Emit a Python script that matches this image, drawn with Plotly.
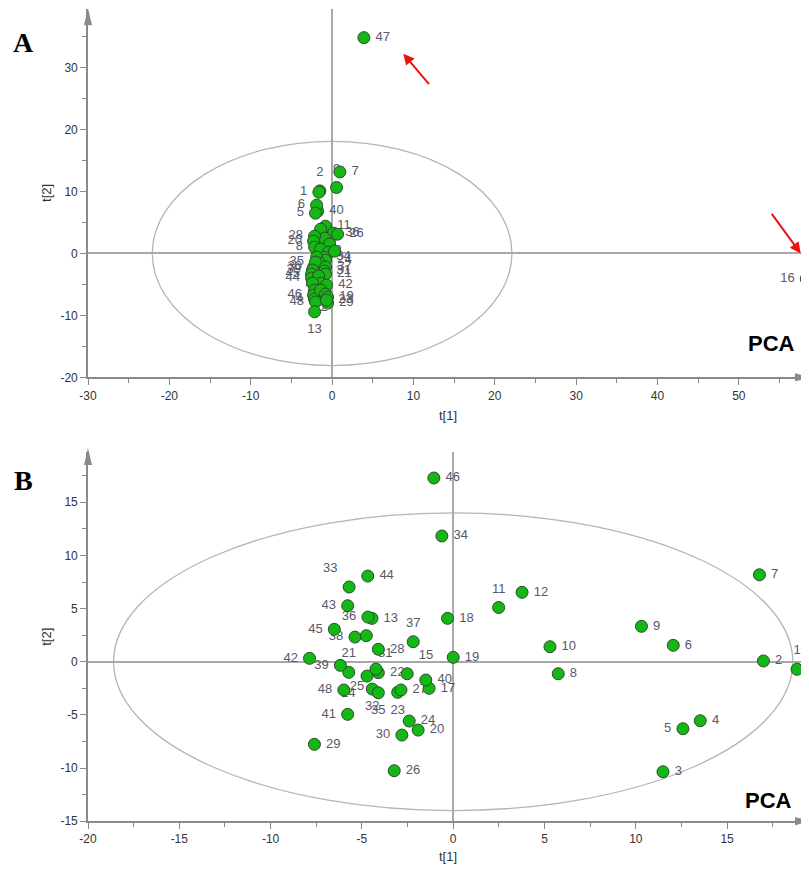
import plotly.graph_objects as go

# page is drawn with the browser's 8px body margin, so the figure is 8px smaller
OFF = 8
W, H = 809 - OFF, 871 - OFF

# ---------------- Panel A : all samples ----------------
a_labels = ['47', '16', '7', '9', '2', '1', '40', '6', '5', '11', '36', '26',
            '3', '10', '12', '28', '20', '8', '14', '15', '34', '24', '17', '18',
            '27', '30', '35', '39', '37', '31', '21', '45', '44', '32', '33', '25',
            '38', '42', '43', '46', '4', '48', '22', '41', '19', '29', '23', '13']
a_t1 = [3.91, 58.29, 0.96, 0.55, -1.50, -1.62, -1.78, -1.90, -2.03, -0.80, 0.18, 0.68,
        -1.41, -0.92, -0.31, -2.15, -2.27, -2.15, -1.41, -0.43, -0.92, -0.80, -1.90, 0.31,
        -1.54, -2.27, -2.03, -2.40, -0.80, -0.92, -0.80, -2.52, -2.52, -1.66, -1.41, -2.40,
        -2.15, -0.68, -1.29, -2.27, -2.15, -2.03, -1.41, -0.80, -0.55, -0.55, -0.68, -2.15]
a_t2 = [34.84, -4.10, 13.16, 10.65, 10.10, 9.89, 6.82, 7.79, 6.50, 4.40, 3.27, 3.11,
        3.92, 2.47, 1.50, 2.79, 1.98, 1.02, 0.69, 0.21, -0.60, -1.08, -0.60, 0.37,
        -1.56, -2.21, -1.40, -2.69, -2.21, -2.85, -3.34, -3.34, -3.98, -3.66, -4.79, -4.79,
        -5.92, -5.11, -6.24, -6.73, -7.37, -7.85, -5.92, -6.56, -7.05, -8.02, -7.53, -9.42]
a_xticks = [-30, -20, -10, 0, 10, 20, 30, 40, 50]
a_xtick_text = ['-30', '-20', '-10', '0', '10', '20', '30', '40', '50']
a_yticks = [-20, -10, 0, 10, 20, 30]
a_ytick_text = ['-20', '-10', '0', '10', '20', '30']

# ---------------- Panel B : outliers 16 and 47 removed ----------------
b_labels = ['1', '2', '3', '4', '5', '6', '7', '8', '9', '10', '11', '12', '13', '14',
            '15', '17', '18', '19', '20', '21', '22', '23', '24', '25', '26', '27', '28',
            '29', '30', '31', '32', '33', '34', '35', '36', '37', '38', '39', '40', '41',
            '42', '43', '44', '45', '46', '48']
b_t1 = [18.83, 16.99, 11.49, 13.53, 12.58, 12.05, 16.77, 5.75, 10.31, 5.30, 2.49, 3.77, -4.45, -4.72,
        -2.52, -1.32, -0.31, 0.00, -1.92, -5.72, -4.10, -3.04, -2.41, -4.23, -3.23, -2.86, -4.10,
        -7.60, -2.81, -4.76, -4.43, -5.70, -0.62, -4.10, -4.67, -2.19, -5.38, -6.18, -1.50, -5.78,
        -7.87, -5.78, -4.68, -6.51, -1.06, -5.99]
b_t2 = [-0.71, 0.07, -10.35, -5.55, -6.30, 1.54, 8.18, -1.13, 3.33, 1.41, 5.10, 6.53, 4.08, -1.35,
        -1.13, -2.50, 4.08, 0.41, -6.43, -1.00, -1.03, -2.88, -5.58, -0.69, -10.25, -2.66, 1.17,
        -7.77, -6.90, 2.45, -2.57, 7.03, 11.83, -2.92, 4.20, 1.88, 2.32, -0.34, -1.72, -4.95,
        0.32, 5.27, 8.06, 3.05, 17.28, -2.66]
b_xticks = [-20, -15, -10, -5, 0, 5, 10, 15]
b_xtick_text = ['-20', '-15', '-10', '-5', '0', '5', '10', '15']
b_yticks = [-15, -10, -5, 0, 5, 10, 15]
b_ytick_text = ['-15', '-10', '-5', '0', '5', '10', '15']

# Hotelling T2 ellipse half-widths (t[1], t[2])
ellipse_A = (22.1, 18.1)
ellipse_B = (18.6, 14.0)

# ---------------- style: label placement ----------------
P = {'r': 'middle right', 'l': 'middle left', 't': 'top center', 'b': 'bottom center',
     'c': 'middle center', 'tr': 'top right', 'tl': 'top left', 'br': 'bottom right',
     'bl': 'bottom left'}
a_pos_codes = ['r', 'l', 'r', 't', 't', 'l', 'r', 'l', 'l', 'r', 'r', 'r',
               'c', 'c', 'c', 'l', 'l', 'l', 'c', 'c', 'r', 'r', 'c', 'c',
               'c', 'l', 'l', 'l', 'r', 'r', 'r', 'l', 'l', 'c', 'c', 'c',
               'c', 'r', 'c', 'l', 'l', 'l', 'b', 'c', 'r', 'r', 'r', 'b']
b_pos_codes = ['t', 'r', 'r', 'r', 'l', 'r', 'r', 'r', 'r', 'r', 't', 'r', 'r', 'bl',
               'tr', 'r', 'r', 'r', 'r', 't', 'r', 'b', 'r', 'bl', 'r', 'r', 'r',
               'r', 'l', 'br', 'b', 'tl', 'r', 'b', 'l', 't', 'l', 'l', 'r', 'l',
               'l', 'l', 'r', 'l', 'r', 'l']
a_pos = [P[c] for c in a_pos_codes]
b_pos = [P[c] for c in b_pos_codes]

GREEN = '#14b814'
EDGE = '#2e4a2e'
AXIS = '#8a8a8a'
ZERO = '#a9a9a9'
LABEL_FONT = dict(family='Liberation Sans, Arial, sans-serif', size=13, color='#58586a')
TICK_FONT = dict(family='Liberation Sans, Arial, sans-serif', size=12, color='#333333')

fig = go.Figure()


def add_panel(xs, ys, labels, pos, xa, ya):
    # labels underneath the markers (offset set by invisible marker size)
    fig.add_trace(go.Scatter(x=xs, y=ys, mode='markers+text', text=labels,
                             textposition=pos, textfont=LABEL_FONT,
                             marker=dict(size=17, color='rgba(0,0,0,0)'),
                             xaxis=xa, yaxis=ya, hoverinfo='skip', showlegend=False))
    fig.add_trace(go.Scatter(x=xs, y=ys, mode='markers',
                             marker=dict(size=12, color=GREEN, line=dict(color=EDGE, width=1)),
                             xaxis=xa, yaxis=ya, text=labels, showlegend=False))


add_panel(a_t1, a_t2, a_labels, a_pos, 'x', 'y')
add_panel(b_t1, b_t2, b_labels, b_pos, 'x2', 'y2')

# pixel geometry (window pixels) of the two plot areas
X_LEFT, X_RIGHT = 88, 808
A_TOP, A_BOT = 8.5, 377.3          # t[2] range -20 .. 39.55
B_TOP, B_BOT = 452.3, 821.2        # t[2] range -15 .. 19.7


def fy(py):
    return 1 - (py - OFF) / H


def fx(px):
    return (px - OFF) / W


def axis_common(tickvals, ticktext, minor_dtick):
    return dict(showline=True, linecolor=AXIS, linewidth=1.6, ticks='outside', ticklen=6,
                tickcolor=AXIS, tickwidth=1, tickmode='array', tickvals=tickvals, ticktext=ticktext,
                minor=dict(dtick=minor_dtick, tick0=0, ticks='outside', ticklen=4, tickcolor=AXIS),
                showgrid=False, zeroline=True, zerolinecolor=ZERO, zerolinewidth=1.5,
                tickfont=TICK_FONT, fixedrange=True, automargin=False)


title_font = dict(family='Liberation Sans, Arial, sans-serif', size=13, color='#333333')

fig.update_layout(
    width=W, height=H, margin=dict(l=0, r=0, t=0, b=0, pad=0, autoexpand=False),
    paper_bgcolor='white', plot_bgcolor='white', showlegend=False,
    xaxis=dict(domain=[fx(X_LEFT), fx(X_RIGHT)], range=[-30, 58.5], anchor='y',
               title=dict(text='t[1]', font=title_font, standoff=9),
               **axis_common(a_xticks, a_xtick_text, 5)),
    yaxis=dict(domain=[fy(A_BOT), fy(A_TOP)], range=[-20, 39.55], anchor='x',
               title=dict(text='t[2]', font=title_font, standoff=6),
               **axis_common(a_yticks, a_ytick_text, 5)),
    xaxis2=dict(domain=[fx(X_LEFT), fx(X_RIGHT)], range=[-20, 19.43], anchor='y2',
                title=dict(text='t[1]', font=title_font, standoff=6),
                **axis_common(b_xticks, b_xtick_text, 2.5)),
    yaxis2=dict(domain=[fy(B_BOT), fy(B_TOP)], range=[-15, 19.7], anchor='x2',
                title=dict(text='t[2]', font=title_font, standoff=6),
                **axis_common(b_yticks, b_ytick_text, 2.5)),
)

shapes = [
    dict(type='circle', xref='x', yref='y', x0=-ellipse_A[0], x1=ellipse_A[0],
         y0=-ellipse_A[1], y1=ellipse_A[1], line=dict(color='#b5b5b5', width=1.3), layer='below'),
    dict(type='circle', xref='x2', yref='y2', x0=-ellipse_B[0], x1=ellipse_B[0],
         y0=-ellipse_B[1], y1=ellipse_B[1], line=dict(color='#b5b5b5', width=1.3), layer='below'),
]


def tri_up(px, top_py):
    return dict(type='path', xref='paper', yref='paper', fillcolor=AXIS, line=dict(width=0),
                path=f'M {fx(px - 4)} {fy(top_py + 17)} L {fx(px)} {fy(top_py)} L {fx(px + 4)} {fy(top_py + 17)} Z')


def tri_right(py, tip_px):
    return dict(type='path', xref='paper', yref='paper', fillcolor=AXIS, line=dict(width=0),
                path=f'M {fx(tip_px - 17)} {fy(py - 4)} L {fx(tip_px)} {fy(py)} L {fx(tip_px - 17)} {fy(py + 4)} Z')


shapes += [tri_up(X_LEFT, 8.2), tri_right(A_BOT, 812),
           tri_up(X_LEFT, 448), tri_right(B_BOT, 812)]
fig.update_layout(shapes=shapes)

annotations = [
    dict(text='<b>A</b>', x=fx(23), y=fy(42), xref='paper', yref='paper', showarrow=False,
         xanchor='center', yanchor='middle',
         font=dict(family='Liberation Serif, Times New Roman, serif', size=28, color='black')),
    dict(text='<b>B</b>', x=fx(23), y=fy(480), xref='paper', yref='paper', showarrow=False,
         xanchor='center', yanchor='middle',
         font=dict(family='Liberation Serif, Times New Roman, serif', size=28, color='black')),
    dict(text='<b>PCA</b>', x=fx(771), y=fy(343), xref='paper', yref='paper', showarrow=False,
         xanchor='center', yanchor='middle',
         font=dict(family='Liberation Sans, Arial, sans-serif', size=22, color='black')),
    dict(text='<b>PCA</b>', x=fx(768), y=fy(800), xref='paper', yref='paper', showarrow=False,
         xanchor='center', yanchor='middle',
         font=dict(family='Liberation Sans, Arial, sans-serif', size=22, color='black')),
    # red arrows pointing at the outliers 47 and 16
    dict(text='', x=8.75, y=32.26, xref='x', yref='y', ax=27, ay=32, showarrow=True,
         arrowhead=2, arrowsize=1.1, arrowwidth=2, arrowcolor='#ee1111'),
    dict(text='', x=57.6, y=0.0, xref='x', yref='y', ax=-30, ay=-41, showarrow=True,
         arrowhead=2, arrowsize=1.1, arrowwidth=2, arrowcolor='#ee1111'),
]
fig.update_layout(annotations=annotations)

fig.write_html('out.html')
